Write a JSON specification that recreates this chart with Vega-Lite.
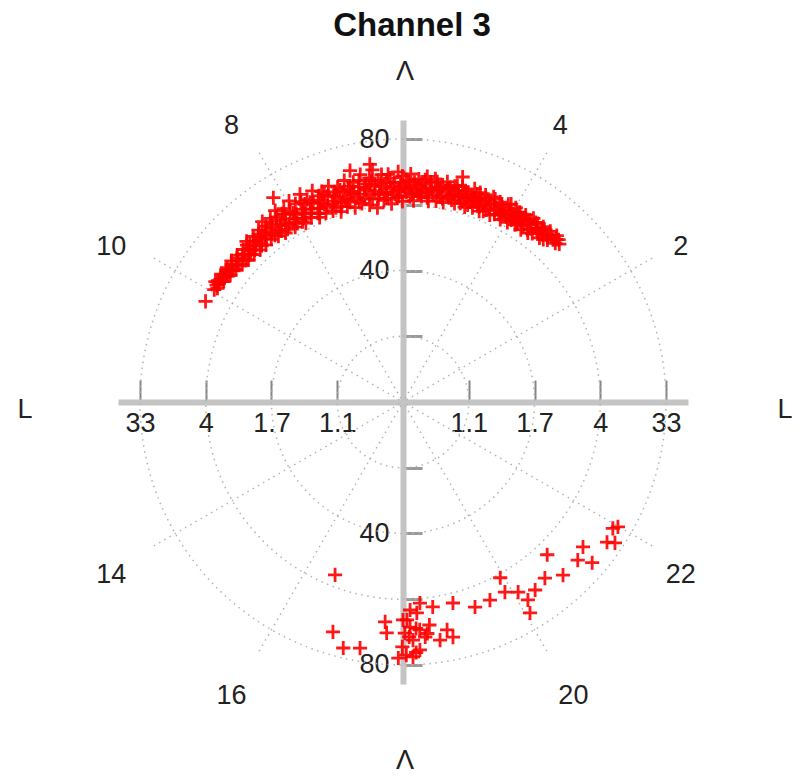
{
  "$schema": "https://vega.github.io/schema/vega-lite/v6.json",
  "width": 570,
  "height": 564,
  "autosize": {"type": "none"},
  "padding": {"left": 118, "top": 120, "right": 112, "bottom": 92},
  "background": "white",
  "config": {"view": {"stroke": null}, "font": "Liberation Sans"},
  "title": {"text": "Channel 3", "font": "Liberation Sans", "fontSize": 33, "fontWeight": "bold", "color": "#111", "anchor": "middle", "frame": "group", "offset": 15, "dx": 9},
  "datasets": {
    "circles": [{"lat": 20}, {"lat": 40}, {"lat": 60}, {"lat": 80}],
    "spokes": [{"mlt": 2}, {"mlt": 4}, {"mlt": 8}, {"mlt": 10}, {"mlt": 14}, {"mlt": 16}, {"mlt": 20}, {"mlt": 22}],
    "hours": [{"mlt": 2, "label": "2"}, {"mlt": 4, "label": "4"}, {"mlt": 8, "label": "8"}, {"mlt": 10, "label": "10"}, {"mlt": 14, "label": "14"}, {"mlt": 16, "label": "16"}, {"mlt": 20, "label": "20"}, {"mlt": 22, "label": "22"}],
    "points": [
      {"mlt": 3.02, "lat": 67.6}, {"mlt": 3.08, "lat": 68.4}, {"mlt": 3.08, "lat": 66.9}, {"mlt": 3.15, "lat": 67.2}, {"mlt": 3.15, "lat": 68.9},
      {"mlt": 3.22, "lat": 66.0}, {"mlt": 3.22, "lat": 67.8}, {"mlt": 3.28, "lat": 65.3}, {"mlt": 3.28, "lat": 67.0}, {"mlt": 3.28, "lat": 68.6},
      {"mlt": 3.35, "lat": 66.4}, {"mlt": 3.35, "lat": 64.9}, {"mlt": 3.42, "lat": 67.5}, {"mlt": 3.42, "lat": 65.8}, {"mlt": 3.42, "lat": 68.3},
      {"mlt": 3.50, "lat": 64.6}, {"mlt": 3.50, "lat": 66.7}, {"mlt": 3.57, "lat": 67.9}, {"mlt": 3.57, "lat": 65.5}, {"mlt": 3.57, "lat": 63.9},
      {"mlt": 3.64, "lat": 66.2}, {"mlt": 3.64, "lat": 68.5}, {"mlt": 3.71, "lat": 64.8}, {"mlt": 3.71, "lat": 67.1}, {"mlt": 3.71, "lat": 63.5},
      {"mlt": 3.78, "lat": 65.9}, {"mlt": 3.78, "lat": 68.0}, {"mlt": 3.85, "lat": 63.8}, {"mlt": 3.85, "lat": 66.6}, {"mlt": 3.85, "lat": 64.9},
      {"mlt": 3.92, "lat": 67.4}, {"mlt": 3.92, "lat": 65.3}, {"mlt": 3.99, "lat": 63.2}, {"mlt": 3.99, "lat": 66.0}, {"mlt": 3.99, "lat": 68.3},
      {"mlt": 4.06, "lat": 64.5}, {"mlt": 4.06, "lat": 67.0}, {"mlt": 4.13, "lat": 65.7}, {"mlt": 4.13, "lat": 62.9}, {"mlt": 4.13, "lat": 68.1},
      {"mlt": 4.20, "lat": 66.5}, {"mlt": 4.20, "lat": 64.1}, {"mlt": 4.27, "lat": 63.5}, {"mlt": 4.27, "lat": 67.6}, {"mlt": 4.27, "lat": 65.2},
      {"mlt": 4.34, "lat": 66.1}, {"mlt": 4.34, "lat": 62.7}, {"mlt": 4.41, "lat": 64.6}, {"mlt": 4.41, "lat": 68.2}, {"mlt": 4.41, "lat": 65.8},
      {"mlt": 4.48, "lat": 63.0}, {"mlt": 4.48, "lat": 66.9}, {"mlt": 4.55, "lat": 65.1}, {"mlt": 4.55, "lat": 67.8}, {"mlt": 4.55, "lat": 62.5},
      {"mlt": 4.62, "lat": 64.0}, {"mlt": 4.62, "lat": 66.3}, {"mlt": 4.69, "lat": 67.2}, {"mlt": 4.69, "lat": 62.8}, {"mlt": 4.69, "lat": 65.6},
      {"mlt": 4.76, "lat": 64.3}, {"mlt": 4.76, "lat": 68.4}, {"mlt": 4.76, "lat": 66.0}, {"mlt": 4.83, "lat": 62.2}, {"mlt": 4.83, "lat": 65.0},
      {"mlt": 4.90, "lat": 67.0}, {"mlt": 4.90, "lat": 63.6}, {"mlt": 4.90, "lat": 65.9}, {"mlt": 4.97, "lat": 64.7}, {"mlt": 4.97, "lat": 68.0},
      {"mlt": 5.03, "lat": 62.4}, {"mlt": 5.03, "lat": 66.4}, {"mlt": 5.01, "lat": 70.8}, {"mlt": 5.10, "lat": 65.2}, {"mlt": 5.10, "lat": 63.2},
      {"mlt": 5.10, "lat": 67.5}, {"mlt": 5.17, "lat": 64.0}, {"mlt": 5.17, "lat": 66.8}, {"mlt": 5.24, "lat": 61.9}, {"mlt": 5.24, "lat": 65.5},
      {"mlt": 5.24, "lat": 68.3}, {"mlt": 5.31, "lat": 63.4}, {"mlt": 5.31, "lat": 67.1}, {"mlt": 5.38, "lat": 64.8}, {"mlt": 5.38, "lat": 62.0},
      {"mlt": 5.38, "lat": 66.2}, {"mlt": 5.45, "lat": 68.6}, {"mlt": 5.45, "lat": 63.7}, {"mlt": 5.52, "lat": 65.7}, {"mlt": 5.52, "lat": 61.6},
      {"mlt": 5.52, "lat": 67.4}, {"mlt": 5.59, "lat": 64.2}, {"mlt": 5.59, "lat": 69.0}, {"mlt": 5.66, "lat": 62.8}, {"mlt": 5.66, "lat": 66.5},
      {"mlt": 5.66, "lat": 65.0}, {"mlt": 5.73, "lat": 63.6}, {"mlt": 5.73, "lat": 68.0}, {"mlt": 5.80, "lat": 61.3}, {"mlt": 5.80, "lat": 66.9},
      {"mlt": 5.80, "lat": 64.6}, {"mlt": 5.87, "lat": 69.4}, {"mlt": 5.87, "lat": 65.3}, {"mlt": 5.87, "lat": 62.5}, {"mlt": 5.94, "lat": 63.9},
      {"mlt": 5.94, "lat": 67.6}, {"mlt": 6.01, "lat": 61.0}, {"mlt": 6.01, "lat": 65.8}, {"mlt": 6.01, "lat": 68.7}, {"mlt": 6.08, "lat": 64.4},
      {"mlt": 6.08, "lat": 70.0}, {"mlt": 6.08, "lat": 62.6}, {"mlt": 6.15, "lat": 66.7}, {"mlt": 6.15, "lat": 63.3}, {"mlt": 6.22, "lat": 60.4},
      {"mlt": 6.22, "lat": 65.1}, {"mlt": 6.22, "lat": 68.2}, {"mlt": 6.29, "lat": 62.2}, {"mlt": 6.29, "lat": 67.0}, {"mlt": 6.29, "lat": 64.0},
      {"mlt": 6.36, "lat": 69.5}, {"mlt": 6.36, "lat": 65.9}, {"mlt": 6.36, "lat": 61.6}, {"mlt": 6.43, "lat": 63.7}, {"mlt": 6.43, "lat": 67.8},
      {"mlt": 6.50, "lat": 59.6}, {"mlt": 6.50, "lat": 66.3}, {"mlt": 6.50, "lat": 64.8}, {"mlt": 6.50, "lat": 71.2}, {"mlt": 6.53, "lat": 73.0},
      {"mlt": 6.57, "lat": 62.4}, {"mlt": 6.57, "lat": 68.9}, {"mlt": 6.64, "lat": 65.4}, {"mlt": 6.64, "lat": 60.8}, {"mlt": 6.64, "lat": 67.3},
      {"mlt": 6.71, "lat": 63.1}, {"mlt": 6.71, "lat": 70.4}, {"mlt": 6.78, "lat": 64.6}, {"mlt": 6.78, "lat": 66.8}, {"mlt": 6.78, "lat": 61.7},
      {"mlt": 6.85, "lat": 68.5}, {"mlt": 6.85, "lat": 63.8}, {"mlt": 6.86, "lat": 72.2}, {"mlt": 6.92, "lat": 65.9}, {"mlt": 6.92, "lat": 60.9},
      {"mlt": 6.92, "lat": 67.6}, {"mlt": 6.99, "lat": 62.9}, {"mlt": 6.99, "lat": 69.7}, {"mlt": 7.06, "lat": 64.3}, {"mlt": 7.06, "lat": 66.4},
      {"mlt": 7.06, "lat": 61.8}, {"mlt": 7.13, "lat": 68.3}, {"mlt": 7.13, "lat": 63.5}, {"mlt": 7.20, "lat": 65.5}, {"mlt": 7.20, "lat": 60.9},
      {"mlt": 7.20, "lat": 67.2}, {"mlt": 7.27, "lat": 62.5}, {"mlt": 7.27, "lat": 69.5}, {"mlt": 7.27, "lat": 64.6}, {"mlt": 7.34, "lat": 66.7},
      {"mlt": 7.34, "lat": 61.9}, {"mlt": 7.41, "lat": 63.9}, {"mlt": 7.41, "lat": 68.6}, {"mlt": 7.48, "lat": 65.4}, {"mlt": 7.48, "lat": 62.0},
      {"mlt": 7.48, "lat": 67.7}, {"mlt": 7.55, "lat": 64.1}, {"mlt": 7.55, "lat": 69.9}, {"mlt": 7.62, "lat": 61.6}, {"mlt": 7.62, "lat": 66.3},
      {"mlt": 7.62, "lat": 63.0}, {"mlt": 7.69, "lat": 68.1}, {"mlt": 7.69, "lat": 65.0}, {"mlt": 7.76, "lat": 62.7}, {"mlt": 7.76, "lat": 67.2},
      {"mlt": 7.76, "lat": 70.5}, {"mlt": 7.83, "lat": 64.4}, {"mlt": 7.83, "lat": 66.0}, {"mlt": 7.90, "lat": 61.9}, {"mlt": 7.90, "lat": 68.6},
      {"mlt": 7.90, "lat": 63.6}, {"mlt": 7.97, "lat": 65.6}, {"mlt": 7.97, "lat": 70.3}, {"mlt": 8.04, "lat": 63.1}, {"mlt": 8.04, "lat": 67.4},
      {"mlt": 8.04, "lat": 64.7}, {"mlt": 8.11, "lat": 69.1}, {"mlt": 8.11, "lat": 62.5}, {"mlt": 8.16, "lat": 73.6}, {"mlt": 8.18, "lat": 66.2},
      {"mlt": 8.18, "lat": 64.1}, {"mlt": 8.18, "lat": 68.0}, {"mlt": 8.25, "lat": 63.2}, {"mlt": 8.25, "lat": 70.0}, {"mlt": 8.32, "lat": 65.3},
      {"mlt": 8.32, "lat": 67.2}, {"mlt": 8.32, "lat": 62.6}, {"mlt": 8.39, "lat": 64.4}, {"mlt": 8.39, "lat": 68.9}, {"mlt": 8.46, "lat": 66.3},
      {"mlt": 8.46, "lat": 63.1}, {"mlt": 8.53, "lat": 65.0}, {"mlt": 8.53, "lat": 67.8}, {"mlt": 8.53, "lat": 69.6}, {"mlt": 8.60, "lat": 63.7},
      {"mlt": 8.60, "lat": 66.4}, {"mlt": 8.67, "lat": 64.9}, {"mlt": 8.67, "lat": 68.3}, {"mlt": 8.74, "lat": 63.4}, {"mlt": 8.74, "lat": 66.8},
      {"mlt": 8.74, "lat": 65.6}, {"mlt": 8.81, "lat": 67.9}, {"mlt": 8.81, "lat": 64.1}, {"mlt": 8.88, "lat": 65.3}, {"mlt": 8.88, "lat": 63.5},
      {"mlt": 8.95, "lat": 66.7}, {"mlt": 8.95, "lat": 64.6}, {"mlt": 8.95, "lat": 68.2}, {"mlt": 9.02, "lat": 63.7}, {"mlt": 9.02, "lat": 65.8},
      {"mlt": 9.09, "lat": 67.2}, {"mlt": 9.09, "lat": 64.9}, {"mlt": 9.16, "lat": 63.9}, {"mlt": 9.16, "lat": 66.3}, {"mlt": 9.23, "lat": 65.1},
      {"mlt": 9.23, "lat": 67.4}, {"mlt": 9.30, "lat": 64.3}, {"mlt": 9.30, "lat": 66.2}, {"mlt": 9.37, "lat": 65.6}, {"mlt": 9.37, "lat": 67.6},
      {"mlt": 9.44, "lat": 64.8}, {"mlt": 9.44, "lat": 66.5}, {"mlt": 9.51, "lat": 65.9}, {"mlt": 9.51, "lat": 67.3}, {"mlt": 9.58, "lat": 65.2},
      {"mlt": 9.58, "lat": 66.7}, {"mlt": 9.66, "lat": 66.3}, {"mlt": 9.66, "lat": 67.6}, {"mlt": 9.74, "lat": 65.7}, {"mlt": 9.74, "lat": 66.9},
      {"mlt": 9.82, "lat": 66.6}, {"mlt": 9.82, "lat": 67.8}, {"mlt": 9.90, "lat": 66.2}, {"mlt": 10.20, "lat": 67.4},
      {"mlt": 3.12, "lat": 67.9}, {"mlt": 3.25, "lat": 66.6}, {"mlt": 3.38, "lat": 67.9}, {"mlt": 3.46, "lat": 66.0}, {"mlt": 3.53, "lat": 68.0},
      {"mlt": 3.61, "lat": 64.7}, {"mlt": 3.67, "lat": 67.5}, {"mlt": 3.75, "lat": 66.7}, {"mlt": 3.82, "lat": 64.3}, {"mlt": 3.89, "lat": 67.8},
      {"mlt": 3.95, "lat": 64.4}, {"mlt": 4.02, "lat": 65.6}, {"mlt": 4.09, "lat": 68.6}, {"mlt": 4.16, "lat": 64.8}, {"mlt": 4.23, "lat": 67.3},
      {"mlt": 4.30, "lat": 64.6}, {"mlt": 4.37, "lat": 67.8}, {"mlt": 4.44, "lat": 63.7}, {"mlt": 4.51, "lat": 65.9}, {"mlt": 4.58, "lat": 63.8},
      {"mlt": 4.65, "lat": 67.9}, {"mlt": 4.72, "lat": 64.8}, {"mlt": 4.79, "lat": 63.1}, {"mlt": 4.86, "lat": 66.6}, {"mlt": 4.93, "lat": 62.9},
      {"mlt": 5.00, "lat": 65.4}, {"mlt": 5.06, "lat": 67.9}, {"mlt": 5.13, "lat": 64.4}, {"mlt": 5.20, "lat": 66.3}, {"mlt": 5.27, "lat": 63.1},
      {"mlt": 5.34, "lat": 65.8}, {"mlt": 5.41, "lat": 67.8}, {"mlt": 5.48, "lat": 65.1}, {"mlt": 5.55, "lat": 62.6}, {"mlt": 5.62, "lat": 67.9},
      {"mlt": 5.69, "lat": 63.9}, {"mlt": 5.76, "lat": 66.0}, {"mlt": 5.83, "lat": 63.4}, {"mlt": 5.90, "lat": 67.1}, {"mlt": 5.97, "lat": 65.0},
      {"mlt": 6.04, "lat": 66.9}, {"mlt": 6.11, "lat": 62.1}, {"mlt": 6.18, "lat": 65.6}, {"mlt": 6.25, "lat": 69.4}, {"mlt": 6.32, "lat": 63.3},
      {"mlt": 6.39, "lat": 66.8}, {"mlt": 6.46, "lat": 62.3}, {"mlt": 6.54, "lat": 68.0}, {"mlt": 6.61, "lat": 63.9}, {"mlt": 6.68, "lat": 66.2},
      {"mlt": 6.75, "lat": 68.7}, {"mlt": 6.82, "lat": 62.6}, {"mlt": 6.89, "lat": 65.0}, {"mlt": 6.96, "lat": 66.9}, {"mlt": 7.03, "lat": 63.6},
      {"mlt": 7.10, "lat": 67.3}, {"mlt": 7.17, "lat": 62.3}, {"mlt": 7.24, "lat": 66.2}, {"mlt": 7.31, "lat": 63.8}, {"mlt": 7.38, "lat": 67.7},
      {"mlt": 7.45, "lat": 64.7}, {"mlt": 7.52, "lat": 66.6}, {"mlt": 7.59, "lat": 62.7}, {"mlt": 7.66, "lat": 67.0}, {"mlt": 7.73, "lat": 64.0},
      {"mlt": 7.80, "lat": 68.4}, {"mlt": 7.87, "lat": 65.2}, {"mlt": 7.94, "lat": 62.8}, {"mlt": 8.01, "lat": 66.5}, {"mlt": 8.08, "lat": 64.0},
      {"mlt": 8.15, "lat": 67.5}, {"mlt": 8.22, "lat": 65.0}, {"mlt": 8.29, "lat": 68.2}, {"mlt": 8.36, "lat": 63.8}, {"mlt": 8.43, "lat": 67.4},
      {"mlt": 8.50, "lat": 64.0}, {"mlt": 8.57, "lat": 66.9}, {"mlt": 8.64, "lat": 65.6}, {"mlt": 8.71, "lat": 67.4}, {"mlt": 8.78, "lat": 64.9},
      {"mlt": 8.85, "lat": 66.6}, {"mlt": 8.92, "lat": 65.8}, {"mlt": 8.99, "lat": 67.3}, {"mlt": 9.06, "lat": 64.5}, {"mlt": 9.13, "lat": 66.0},
      {"mlt": 9.20, "lat": 64.4}, {"mlt": 9.27, "lat": 66.9}, {"mlt": 9.34, "lat": 64.9}, {"mlt": 9.41, "lat": 67.0}, {"mlt": 9.48, "lat": 65.3},
      {"mlt": 9.55, "lat": 67.1}, {"mlt": 9.62, "lat": 65.8}, {"mlt": 9.70, "lat": 66.5}, {"mlt": 9.78, "lat": 67.3}, {"mlt": 9.86, "lat": 66.9},
      {"mlt": 9.95, "lat": 66.8},
      {"mlt": 16.57, "lat": 56.5}, {"mlt": 16.87, "lat": 73.1}, {"mlt": 17.09, "lat": 77.0}, {"mlt": 17.34, "lat": 76.0}, {"mlt": 17.69, "lat": 67.1},
      {"mlt": 17.73, "lat": 70.4}, {"mlt": 17.93, "lat": 77.9}, {"mlt": 17.99, "lat": 74.5}, {"mlt": 18.00, "lat": 66.3}, {"mlt": 18.03, "lat": 70.3},
      {"mlt": 18.07, "lat": 66.3}, {"mlt": 18.13, "lat": 63.3}, {"mlt": 18.12, "lat": 68.5}, {"mlt": 18.16, "lat": 72.5}, {"mlt": 18.15, "lat": 77.6},
      {"mlt": 18.25, "lat": 64.3}, {"mlt": 18.32, "lat": 61.4}, {"mlt": 18.28, "lat": 69.5}, {"mlt": 18.26, "lat": 75.6}, {"mlt": 18.36, "lat": 71.8},
      {"mlt": 18.22, "lat": 69.0}, {"mlt": 18.40, "lat": 70.8}, {"mlt": 18.10, "lat": 71.5}, {"mlt": 18.45, "lat": 68.3}, {"mlt": 18.05, "lat": 77.0},
      {"mlt": 18.20, "lat": 76.3}, {"mlt": 18.55, "lat": 63.0}, {"mlt": 18.59, "lat": 73.3}, {"mlt": 18.73, "lat": 70.6}, {"mlt": 18.93, "lat": 63.0},
      {"mlt": 18.80, "lat": 73.1}, {"mlt": 19.29, "lat": 66.1}, {"mlt": 19.58, "lat": 65.8}, {"mlt": 19.93, "lat": 61.1}, {"mlt": 19.88, "lat": 65.6},
      {"mlt": 20.08, "lat": 67.6}, {"mlt": 20.15, "lat": 71.2}, {"mlt": 20.07, "lat": 74.9}, {"mlt": 20.34, "lat": 69.9}, {"mlt": 20.59, "lat": 68.8},
      {"mlt": 20.89, "lat": 63.9}, {"mlt": 20.85, "lat": 71.7}, {"mlt": 21.19, "lat": 71.7}, {"mlt": 21.41, "lat": 70.3}, {"mlt": 21.31, "lat": 75.5},
      {"mlt": 21.70, "lat": 75.3}, {"mlt": 21.93, "lat": 74.5}, {"mlt": 21.76, "lat": 77.4}, {"mlt": 21.99, "lat": 75.6}
    ]
  },
  "layer": [
    {
      "data": {"name": "circles"},
      "mark": {"type": "arc", "theta": 0, "theta2": 6.2832, "filled": false, "fill": null, "stroke": "#b3b3b3", "strokeWidth": 1.5, "strokeDash": [1.5, 4.5]},
      "encoding": {
        "radius": {"field": "lat", "type": "quantitative", "stack": null, "scale": {"type": "linear", "domain": [0, 80], "range": [0, 263], "zero": true}}
      }
    },
    {
      "data": {"name": "spokes"},
      "transform": [
        {"calculate": "87.5*cos(datum.mlt*PI/12)", "as": "ex"},
        {"calculate": "87.5*sin(datum.mlt*PI/12)", "as": "ey"}
      ],
      "mark": {"type": "rule", "stroke": "#b3b3b3", "strokeWidth": 1.5, "strokeDash": [1.5, 4.5]},
      "encoding": {
        "x": {"field": "ex", "type": "quantitative", "title": null, "scale": {"domain": [-86.69, 86.69], "nice": false, "zero": false}},
        "y": {"field": "ey", "type": "quantitative", "title": null, "scale": {"domain": [-85.78, 85.78], "nice": false, "zero": false}},
        "x2": {"datum": 0},
        "y2": {"datum": 0}
      }
    },
    {
      "data": {"name": "points"},
      "transform": [
        {"calculate": "datum.lat*cos(datum.mlt*PI/12)", "as": "x"},
        {"calculate": "datum.lat*sin(datum.mlt*PI/12)", "as": "y"}
      ],
      "mark": {"type": "point", "shape": "M-1,0L1,0M0,-1L0,1", "size": 200, "filled": false, "stroke": "#ff0000", "strokeWidth": 2.8, "opacity": 0.9},
      "encoding": {
        "x": {"field": "x", "type": "quantitative", "title": null, "scale": {"domain": [-86.69, 86.69], "nice": false, "zero": false},
          "axis": {"title": null, "offset": -282, "grid": false, "values": [-80, -60, -40, -20, 20, 40, 60, 80],
            "labelExpr": "abs(datum.value)==20?'1.1':abs(datum.value)==40?'1.7':abs(datum.value)==60?'4':'33'",
            "domainColor": "#c4c4c4", "domainWidth": 6, "tickColor": "#858585", "tickWidth": 2, "tickSize": -22,
            "labelPadding": 30, "labelFont": "Liberation Sans", "labelFontSize": 27, "labelColor": "#222",
            "labelFlush": false, "labelOverlap": false, "labelAlign": "center", "labelBaseline": "top"}},
        "y": {"field": "y", "type": "quantitative", "title": null, "scale": {"domain": [-85.78, 85.78], "nice": false, "zero": false},
          "axis": {"title": null, "offset": -285, "grid": false, "values": [-80, -60, -40, -20, 20, 40, 60, 80],
            "labelExpr": "(abs(datum.value)==40||abs(datum.value)==80)?format(abs(datum.value),'d'):''",
            "domainColor": "#c4c4c4", "domainWidth": 6, "tickColor": "#9a9a9a", "tickWidth": 3, "tickSize": -19,
            "labelPadding": 33, "labelFont": "Liberation Sans", "labelFontSize": 27, "labelColor": "#222",
            "labelFlush": false, "labelOverlap": false, "labelAlign": "right", "labelBaseline": "middle"}}
      }
    },
    {
      "data": {"name": "hours"},
      "transform": [
        {"calculate": "100*cos(datum.mlt*PI/12)", "as": "x"},
        {"calculate": "100*sin(datum.mlt*PI/12)", "as": "y"}
      ],
      "mark": {"type": "text", "font": "Liberation Sans", "fontSize": 27, "color": "#222", "align": "center", "baseline": "middle", "dx": {"expr": "datum.mlt == 20 ? 6 : -7"}, "dy": 9},
      "encoding": {
        "x": {"field": "x", "type": "quantitative", "title": null, "scale": {"domain": [-86.69, 86.69], "nice": false, "zero": false}},
        "y": {"field": "y", "type": "quantitative", "title": null, "scale": {"domain": [-85.78, 85.78], "nice": false, "zero": false}},
        "text": {"field": "label", "type": "nominal"}
      }
    },
    {
      "data": {"values": [{"name": "Λ", "px": 0.6, "py": 100.4}, {"name": "Λ", "px": 0.6, "py": -109.2}, {"name": "L", "px": -115, "py": -2.4}, {"name": "L", "px": 116.2, "py": -2.4}]},
      "mark": {"type": "text", "font": "Liberation Sans", "fontSize": 27, "color": "#222", "align": "center", "baseline": "middle"},
      "encoding": {
        "x": {"field": "px", "type": "quantitative", "title": null, "scale": {"domain": [-86.69, 86.69], "nice": false, "zero": false}},
        "y": {"field": "py", "type": "quantitative", "title": null, "scale": {"domain": [-85.78, 85.78], "nice": false, "zero": false}},
        "text": {"field": "name", "type": "nominal"}
      }
    }
  ]
}
